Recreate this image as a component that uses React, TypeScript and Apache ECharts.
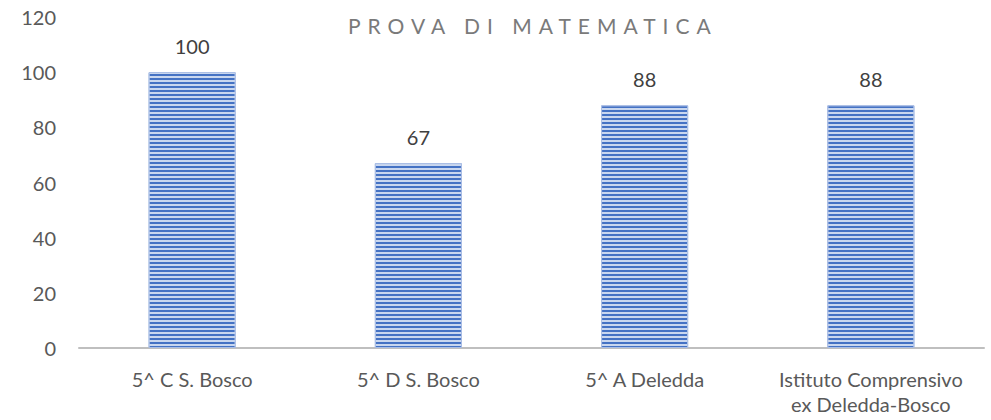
import React, { useEffect, useRef } from "react";
import * as echarts from "echarts";

const categories = ["5^ C S. Bosco", "5^ D S. Bosco", "5^ A Deledda", "Istituto Comprensivo\nex Deledda-Bosco"];
const values = [100, 67, 88, 88];
const titleText = "PROVA DI MATEMATICA";

export default function App() {
  const ref = useRef<HTMLDivElement>(null);
  useEffect(() => {
    if (!ref.current) return;
    const chart = echarts.init(ref.current, null, { renderer: "svg" });
    const font = "Lato, 'Open Sans', sans-serif";
    chart.setOption({
      animation: false,
      backgroundColor: "#ffffff",
      title: {
        text: titleText,
        left: 343,
        top: 10,
        textStyle: { fontFamily: font, fontSize: 21, fontWeight: "normal", color: "#7a7a7a" },
      },
      grid: { left: 79, right: 7, top: 17, bottom: 72 },
      xAxis: {
        type: "category",
        data: categories,
        axisLine: { lineStyle: { color: "#BFBFBF", width: 2 } },
        axisTick: { show: false },
        axisLabel: { interval: 0, fontFamily: font, fontSize: 20, color: "#595959", margin: 18, lineHeight: 25 },
      },
      yAxis: {
        type: "value",
        min: 0,
        max: 120,
        interval: 20,
        splitLine: { show: false },
        axisLine: { show: false },
        axisTick: { show: false },
        axisLabel: { fontFamily: font, fontSize: 20, color: "#595959", margin: 23 },
      },
      series: [
        {
          type: "bar",
          data: values,
          barWidth: "38.5%",
          itemStyle: {
            color: "#4472C4",
            borderColor: "#A9BDE4",
            borderWidth: 1,
            decal: {
              symbol: "rect",
              symbolSize: 1,
              color: "rgba(225,233,247,0.85)",
              dashArrayX: [1, 0],
              dashArrayY: [2, 2],
              rotation: 0,
            },
          },
          label: {
            show: true,
            position: "top",
            distance: 16,
            fontFamily: font,
            fontSize: 20,
            color: "#404040",
          },
        },
      ],
    });
    const texts = ref.current.querySelectorAll("text");
    texts.forEach((t) => {
      if (t.textContent === titleText) {
        (t as SVGTextElement).style.letterSpacing = "7px";
      }
    });
    return () => chart.dispose();
  }, []);
  return <div ref={ref} style={{ position: "fixed", left: 0, top: 0, width: 991, height: 420 }} />;
}
